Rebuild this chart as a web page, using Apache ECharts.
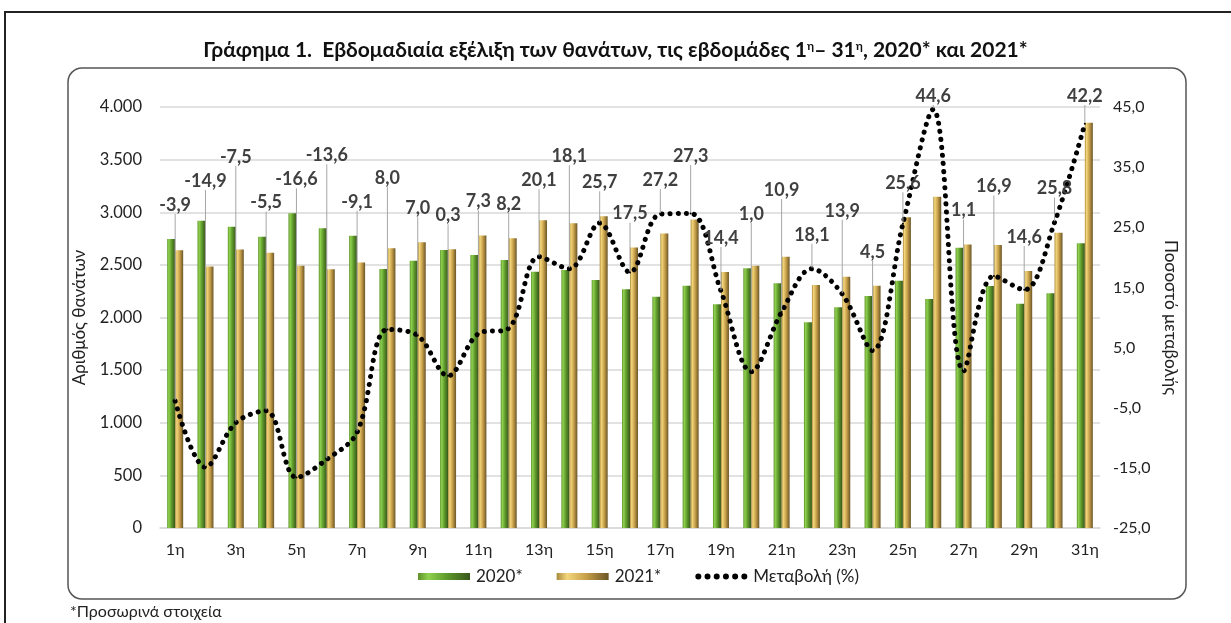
<!DOCTYPE html>
<html>
<head>
<meta charset="utf-8">
<script src="https://cdn.jsdelivr.net/npm/echarts@6/dist/echarts.min.js"></script>
<style>
  html, body { margin: 0; padding: 0; background: #fff; }
  #chart { width: 1231px; height: 623px; }
</style>
</head>
<body>
<div id="chart"></div>
<script>
// weeks 1..31
const weeks = [];
for (let w = 1; w <= 31; w++) weeks.push(w + 'η');

// deaths per week
const deaths2020 = [2746, 2920, 2863, 2768, 2990, 2847, 2777, 2461, 2540, 2641, 2594, 2546, 2435, 2451, 2356, 2268,
  2198, 2302, 2125, 2467, 2325, 1954, 2097, 2204, 2350, 2176, 2663, 2299, 2131, 2230, 2705];
const deaths2021 = [2638, 2485, 2646, 2616, 2492, 2458, 2523, 2657, 2716, 2648, 2780, 2754, 2925, 2895, 2962, 2664,
  2797, 2931, 2432, 2492, 2578, 2309, 2387, 2302, 2952, 3147, 2694, 2688, 2442, 2806, 3850];
// change (%)
const change = [-3.9, -14.9, -7.5, -5.5, -16.6, -13.6, -9.1, 8.0, 7.0, 0.3, 7.3, 8.2, 20.1, 18.1, 25.7, 17.5,
  27.2, 27.3, 14.4, 1.0, 10.9, 18.1, 13.9, 4.5, 25.6, 44.6, 1.1, 16.9, 14.6, 25.8, 42.2];

const FONT = 'Lato, "Noto Sans", sans-serif';
const LABEL_SIZE = 18;
const fmtNum = v => String(v).replace(/\B(?=(\d{3})+(?!\d))/g, '.');
const fmtPct = v => v.toFixed(1).replace('.', ',');

// six round dots for the legend key of the dotted line
let dots = '';
for (let k = 0; k < 6; k++) {
  const cx = 3 + k * 9.2;
  dots += 'M' + (cx - 3) + ',3a3,3 0 1,0 6,0a3,3 0 1,0 -6,0Z';
}

const chart = echarts.init(document.getElementById('chart'));

const greenFill = new echarts.graphic.LinearGradient(0, 0, 1, 0, [
  { offset: 0, color: '#5f922b' }, { offset: 0.2, color: '#8fd14f' },
  { offset: 0.55, color: '#5e9a2b' }, { offset: 1, color: '#38551a' }
]);
const goldFill = new echarts.graphic.LinearGradient(0, 0, 1, 0, [
  { offset: 0, color: '#a88a3c' }, { offset: 0.2, color: '#f3d67c' },
  { offset: 0.55, color: '#c9a24b' }, { offset: 1, color: '#6b5526' }
]);

// label heights: above the taller mark of each week, nudged up when it would collide with its left neighbour
let labelY = null;
function placeLabels() {
  const ctx = document.createElement('canvas').getContext('2d');
  ctx.font = 'bold ' + LABEL_SIZE + 'px ' + FONT;
  const step = chart.convertToPixel({ xAxisIndex: 0 }, weeks[1]) - chart.convertToPixel({ xAxisIndex: 0 }, weeks[0]);
  const out = [];
  const widths = [];
  change.forEach((c, i) => {
    const barTop = chart.convertToPixel({ yAxisIndex: 0 }, Math.max(deaths2020[i], deaths2021[i]));
    const pt = chart.convertToPixel({ yAxisIndex: 1 }, c);
    let y = Math.max(Math.min(barTop, pt) - 34, 96);
    widths.push(ctx.measureText(fmtPct(c)).width);
    if (i > 0) {
      const hit = (widths[i] + widths[i - 1]) / 2 + 3 > step;
      if (hit && Math.abs(y - out[i - 1]) < 22) y = Math.max(out[i - 1] - 24, 96);
    }
    out.push(y);
  });
  return out;
}

chart.setOption({
  animation: false,
  textStyle: { fontFamily: FONT },
  graphic: [
    { type: 'rect', shape: { x: 5, y: 12, width: 1250, height: 700 }, style: { fill: 'none', stroke: '#222', lineWidth: 2 } },
    { type: 'rect', shape: { x: 68, y: 68, width: 1118, height: 531, r: 14 }, style: { fill: 'none', stroke: '#555', lineWidth: 1.5 } },
    { type: 'text', left: 70, top: 604, style: { text: '*Προσωρινά στοιχεία', font: '16px ' + FONT, fill: '#222' } }
  ],
  title: {
    text: 'Γράφημα 1.  Εβδομαδιαία εξέλιξη των θανάτων, τις εβδομάδες 1{s|η}– 31{s|η}, 2020* και 2021*',
    left: 'center', top: 35,
    textStyle: {
      fontFamily: FONT, fontSize: 21, fontWeight: 'bold', color: '#111',
      rich: { s: { fontSize: 12, fontWeight: 'bold', verticalAlign: 'top', padding: [0, 0, 9, 0], color: '#111' } }
    }
  },
  legend: {
    bottom: 33, left: 413, itemWidth: 52, itemHeight: 7, itemGap: 34,
    textStyle: { fontFamily: FONT, fontSize: 17, color: '#222', padding: [0, 0, 0, 1] },
    data: [
      { name: '2020*', icon: 'rect' },
      { name: '2021*', icon: 'rect' },
      { name: 'Μεταβολή (%)', icon: 'path://' + dots }
    ]
  },
  grid: { left: 160, right: 131, top: 107, bottom: 95 },
  xAxis: {
    type: 'category', data: weeks,
    axisLine: { lineStyle: { color: '#d9d9d9', width: 1.5 } },
    axisTick: { show: false },
    axisLabel: { interval: 1, fontSize: 16, color: '#222', margin: 14, fontFamily: FONT }
  },
  yAxis: [{
    type: 'value', min: 0, max: 4000, interval: 500,
    name: 'Αριθμός θανάτων', nameLocation: 'middle', nameGap: 72, nameRotate: 90,
    nameTextStyle: { fontSize: 17, color: '#222', fontFamily: FONT },
    axisLabel: { fontSize: 16.5, color: '#222', margin: 18, formatter: fmtNum, fontFamily: FONT },
    splitLine: { lineStyle: { color: '#d9d9d9', width: 1.5 } },
    axisLine: { show: false }, axisTick: { show: false }
  }, {
    type: 'value', min: -25, max: 45, interval: 10, position: 'right',
    name: 'Ποσοστό μεταβολής', nameLocation: 'middle', nameGap: 62, nameRotate: -90,
    nameTextStyle: { fontSize: 17, color: '#222', fontFamily: FONT },
    axisLabel: { fontSize: 16, color: '#222', margin: 13, formatter: fmtPct, fontFamily: FONT },
    splitLine: { show: false }, axisLine: { show: false }, axisTick: { show: false }
  }],
  series: [{
    name: '2020*', type: 'bar', data: deaths2020, barWidth: 8, barGap: '0%',
    itemStyle: { color: greenFill }
  }, {
    name: '2021*', type: 'bar', data: deaths2021, barWidth: 8, barGap: '0%',
    itemStyle: { color: goldFill }
  }, {
    name: 'Μεταβολή (%)', type: 'line', yAxisIndex: 1, data: change, smooth: 0.35, z: 5,
    symbol: 'circle', symbolSize: 2,
    itemStyle: { color: '#000' },
    lineStyle: { color: '#000', width: 5, type: [0.1, 8], cap: 'round' },
    label: {
      show: true, formatter: p => fmtPct(p.value),
      fontSize: LABEL_SIZE, fontWeight: 'bold', color: '#404040', fontFamily: FONT
    },
    labelLine: { show: true, lineStyle: { color: '#a6a6a6', width: 1 } },
    labelLayout: function (p) {
      if (!labelY) labelY = placeLabels();
      return { x: p.rect.x + p.rect.width / 2, y: labelY[p.dataIndex], align: 'center', verticalAlign: 'middle' };
    }
  }]
});
</script>
</body>
</html>
